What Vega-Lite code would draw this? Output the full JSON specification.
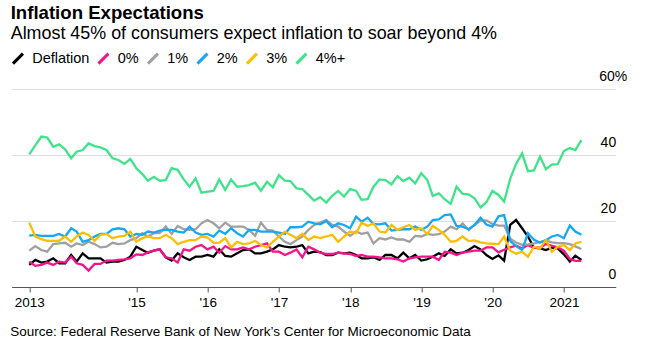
{
  "$schema": "https://vega.github.io/schema/vega-lite/v6.json",
  "autosize": {"type": "none"},
  "width": 604,
  "height": 198,
  "padding": {"left": 11.7, "top": 89, "right": 49.3, "bottom": 69},
  "config": {"view": {"stroke": null}, "font": "Liberation Sans"},
  "title": {
    "text": "Inflation Expectations",
    "subtitle": "Almost 45% of consumers expect inflation to soar beyond 4%",
    "anchor": "start",
    "frame": "group",
    "fontSize": 18.6,
    "fontWeight": "bold",
    "color": "#000",
    "subtitleFontSize": 17.9,
    "subtitleColor": "#000",
    "subtitlePadding": 3,
    "offset": 8,
    "dx": -1
  },
  "data": {"values": [
    {"d":"2013-06-30","Deflation":6.7,"0%":7.7,"1%":11.0,"2%":15.6,"3%":19.5,"4%+":40.2},
    {"d":"2013-07-31","Deflation":8.2,"0%":6.4,"1%":12.4,"2%":15.8,"3%":15.3,"4%+":42.9},
    {"d":"2013-08-31","Deflation":7.4,"0%":6.7,"1%":11.2,"2%":15.5,"3%":14.5,"4%+":45.6},
    {"d":"2013-09-30","Deflation":7.7,"0%":7.4,"1%":10.7,"2%":15.5,"3%":14.0,"4%+":45.3},
    {"d":"2013-10-31","Deflation":8.7,"0%":6.7,"1%":13.0,"2%":15.5,"3%":14.0,"4%+":42.5},
    {"d":"2013-11-30","Deflation":7.2,"0%":7.7,"1%":13.2,"2%":16.1,"3%":14.0,"4%+":43.2},
    {"d":"2013-12-31","Deflation":7.2,"0%":7.4,"1%":13.4,"2%":15.3,"3%":15.3,"4%+":41.7},
    {"d":"2014-01-31","Deflation":9.7,"0%":9.2,"1%":12.2,"2%":17.8,"3%":13.7,"4%+":39.0},
    {"d":"2014-02-28","Deflation":7.7,"0%":7.2,"1%":13.2,"2%":16.8,"3%":15.3,"4%+":41.0},
    {"d":"2014-03-31","Deflation":10.2,"0%":6.7,"1%":12.7,"2%":13.7,"3%":16.5,"4%+":41.5},
    {"d":"2014-04-30","Deflation":8.7,"0%":5.0,"1%":13.7,"2%":14.2,"3%":15.8,"4%+":43.5},
    {"d":"2014-05-31","Deflation":8.7,"0%":7.0,"1%":13.0,"2%":15.3,"3%":14.0,"4%+":42.7},
    {"d":"2014-06-30","Deflation":8.7,"0%":7.0,"1%":12.0,"2%":16.1,"3%":15.8,"4%+":42.3},
    {"d":"2014-07-31","Deflation":7.4,"0%":8.0,"1%":12.2,"2%":16.1,"3%":16.1,"4%+":41.5},
    {"d":"2014-08-31","Deflation":7.7,"0%":8.0,"1%":13.4,"2%":17.5,"3%":14.8,"4%+":39.0},
    {"d":"2014-09-30","Deflation":7.7,"0%":8.2,"1%":13.0,"2%":17.8,"3%":15.3,"4%+":38.5},
    {"d":"2014-10-31","Deflation":8.2,"0%":8.4,"1%":13.2,"2%":17.5,"3%":15.5,"4%+":37.3},
    {"d":"2014-11-30","Deflation":9.2,"0%":8.7,"1%":14.2,"2%":15.3,"3%":16.8,"4%+":38.8},
    {"d":"2014-12-31","Deflation":12.2,"0%":9.9,"1%":14.8,"2%":16.1,"3%":13.7,"4%+":36.0},
    {"d":"2015-01-31","Deflation":11.2,"0%":9.7,"1%":16.3,"2%":15.8,"3%":14.8,"4%+":34.2},
    {"d":"2015-02-28","Deflation":10.4,"0%":10.5,"1%":15.3,"2%":16.8,"3%":15.3,"4%+":32.2},
    {"d":"2015-03-31","Deflation":11.0,"0%":11.0,"1%":16.3,"2%":16.5,"3%":14.8,"4%+":33.4},
    {"d":"2015-04-30","Deflation":11.4,"0%":11.5,"1%":16.3,"2%":17.1,"3%":14.8,"4%+":32.2},
    {"d":"2015-05-31","Deflation":9.0,"0%":9.0,"1%":18.3,"2%":17.3,"3%":15.8,"4%+":32.4},
    {"d":"2015-06-30","Deflation":8.0,"0%":8.7,"1%":16.1,"2%":17.3,"3%":14.8,"4%+":36.0},
    {"d":"2015-07-31","Deflation":10.2,"0%":7.4,"1%":18.5,"2%":16.8,"3%":13.0,"4%+":35.5},
    {"d":"2015-08-31","Deflation":9.0,"0%":11.4,"1%":17.5,"2%":16.5,"3%":13.7,"4%+":32.6},
    {"d":"2015-09-30","Deflation":8.2,"0%":11.0,"1%":17.3,"2%":18.3,"3%":14.2,"4%+":30.4},
    {"d":"2015-10-31","Deflation":9.2,"0%":12.2,"1%":17.5,"2%":16.5,"3%":14.2,"4%+":32.9},
    {"d":"2015-11-30","Deflation":9.2,"0%":12.7,"1%":19.3,"2%":15.8,"3%":15.3,"4%+":28.6},
    {"d":"2015-12-31","Deflation":9.7,"0%":11.4,"1%":20.3,"2%":16.1,"3%":15.0,"4%+":28.9},
    {"d":"2016-01-31","Deflation":9.2,"0%":12.2,"1%":19.3,"2%":15.3,"3%":13.4,"4%+":29.1},
    {"d":"2016-02-29","Deflation":11.4,"0%":10.4,"1%":17.8,"2%":17.1,"3%":13.4,"4%+":32.6},
    {"d":"2016-03-31","Deflation":9.4,"0%":12.4,"1%":19.5,"2%":16.1,"3%":14.8,"4%+":29.4},
    {"d":"2016-04-30","Deflation":9.2,"0%":11.4,"1%":18.3,"2%":17.8,"3%":12.0,"4%+":32.6},
    {"d":"2016-05-31","Deflation":10.2,"0%":11.4,"1%":18.3,"2%":16.3,"3%":13.7,"4%+":30.4},
    {"d":"2016-06-30","Deflation":11.2,"0%":12.0,"1%":18.3,"2%":15.3,"3%":13.0,"4%+":30.6},
    {"d":"2016-07-31","Deflation":11.4,"0%":11.4,"1%":17.3,"2%":17.3,"3%":13.2,"4%+":30.9},
    {"d":"2016-08-31","Deflation":10.2,"0%":12.2,"1%":15.5,"2%":17.3,"3%":14.0,"4%+":31.6},
    {"d":"2016-09-30","Deflation":10.2,"0%":12.7,"1%":19.5,"2%":16.8,"3%":12.7,"4%+":29.2},
    {"d":"2016-10-31","Deflation":10.7,"0%":13.2,"1%":17.3,"2%":16.8,"3%":12.0,"4%+":31.9},
    {"d":"2016-11-30","Deflation":11.4,"0%":10.7,"1%":17.1,"2%":16.8,"3%":13.7,"4%+":30.2},
    {"d":"2016-12-31","Deflation":12.7,"0%":10.7,"1%":15.3,"2%":16.5,"3%":15.3,"4%+":33.9},
    {"d":"2017-01-31","Deflation":12.2,"0%":9.7,"1%":13.7,"2%":16.1,"3%":16.8,"4%+":32.2},
    {"d":"2017-02-28","Deflation":12.0,"0%":10.4,"1%":13.0,"2%":18.1,"3%":15.8,"4%+":32.1},
    {"d":"2017-03-31","Deflation":12.2,"0%":11.4,"1%":14.2,"2%":18.1,"3%":14.8,"4%+":29.9},
    {"d":"2017-04-30","Deflation":12.7,"0%":9.0,"1%":15.3,"2%":18.3,"3%":16.1,"4%+":29.7},
    {"d":"2017-05-31","Deflation":10.2,"0%":12.2,"1%":17.3,"2%":19.8,"3%":14.2,"4%+":27.9},
    {"d":"2017-06-30","Deflation":10.7,"0%":11.4,"1%":18.8,"2%":19.3,"3%":15.3,"4%+":26.2},
    {"d":"2017-07-31","Deflation":10.6,"0%":10.4,"1%":19.5,"2%":19.0,"3%":14.8,"4%+":27.2},
    {"d":"2017-08-31","Deflation":9.7,"0%":10.0,"1%":20.3,"2%":20.0,"3%":15.3,"4%+":25.6},
    {"d":"2017-09-30","Deflation":9.7,"0%":10.0,"1%":18.8,"2%":18.1,"3%":15.8,"4%+":27.6},
    {"d":"2017-10-31","Deflation":10.4,"0%":10.4,"1%":18.3,"2%":19.3,"3%":13.7,"4%+":29.1},
    {"d":"2017-11-30","Deflation":10.2,"0%":10.2,"1%":16.8,"2%":18.8,"3%":15.3,"4%+":27.4},
    {"d":"2017-12-31","Deflation":10.4,"0%":10.0,"1%":15.5,"2%":17.8,"3%":16.8,"4%+":29.7},
    {"d":"2018-01-31","Deflation":9.7,"0%":9.4,"1%":16.8,"2%":21.3,"3%":16.3,"4%+":29.1},
    {"d":"2018-02-28","Deflation":8.7,"0%":9.7,"1%":16.1,"2%":19.8,"3%":19.5,"4%+":26.4},
    {"d":"2018-03-31","Deflation":8.7,"0%":9.2,"1%":16.5,"2%":21.0,"3%":18.5,"4%+":26.6},
    {"d":"2018-04-30","Deflation":9.0,"0%":9.2,"1%":13.2,"2%":19.1,"3%":19.3,"4%+":30.4},
    {"d":"2018-05-31","Deflation":8.2,"0%":9.0,"1%":14.8,"2%":19.0,"3%":16.8,"4%+":32.6},
    {"d":"2018-06-30","Deflation":9.7,"0%":8.7,"1%":14.4,"2%":19.3,"3%":16.5,"4%+":32.4},
    {"d":"2018-07-31","Deflation":9.7,"0%":8.7,"1%":15.0,"2%":17.1,"3%":18.8,"4%+":31.1},
    {"d":"2018-08-31","Deflation":8.7,"0%":8.4,"1%":14.4,"2%":17.3,"3%":17.3,"4%+":33.6},
    {"d":"2018-09-30","Deflation":10.4,"0%":7.7,"1%":14.4,"2%":17.5,"3%":18.1,"4%+":32.1},
    {"d":"2018-10-31","Deflation":8.7,"0%":8.7,"1%":13.7,"2%":17.5,"3%":18.8,"4%+":33.1},
    {"d":"2018-11-30","Deflation":9.7,"0%":9.0,"1%":15.5,"2%":18.3,"3%":17.3,"4%+":31.4},
    {"d":"2018-12-31","Deflation":8.0,"0%":9.2,"1%":15.3,"2%":17.3,"3%":17.8,"4%+":34.5},
    {"d":"2019-01-31","Deflation":8.4,"0%":9.2,"1%":16.1,"2%":18.3,"3%":16.1,"4%+":32.4},
    {"d":"2019-02-28","Deflation":9.2,"0%":9.2,"1%":15.8,"2%":20.3,"3%":18.5,"4%+":27.6},
    {"d":"2019-03-31","Deflation":10.2,"0%":8.2,"1%":16.0,"2%":20.5,"3%":17.3,"4%+":28.4},
    {"d":"2019-04-30","Deflation":9.4,"0%":10.7,"1%":16.8,"2%":21.8,"3%":15.8,"4%+":26.6},
    {"d":"2019-05-31","Deflation":11.4,"0%":10.4,"1%":18.3,"2%":22.0,"3%":13.7,"4%+":25.2},
    {"d":"2019-06-30","Deflation":10.2,"0%":9.7,"1%":17.5,"2%":18.5,"3%":14.0,"4%+":30.4},
    {"d":"2019-07-31","Deflation":10.4,"0%":10.4,"1%":19.3,"2%":18.3,"3%":15.3,"4%+":28.2},
    {"d":"2019-08-31","Deflation":11.2,"0%":10.7,"1%":17.3,"2%":17.5,"3%":13.9,"4%+":28.1},
    {"d":"2019-09-30","Deflation":12.4,"0%":11.0,"1%":18.8,"2%":18.8,"3%":14.1,"4%+":26.9},
    {"d":"2019-10-31","Deflation":11.4,"0%":11.0,"1%":20.1,"2%":21.0,"3%":13.5,"4%+":24.1},
    {"d":"2019-11-30","Deflation":9.7,"0%":12.0,"1%":20.2,"2%":18.9,"3%":13.2,"4%+":25.7},
    {"d":"2019-12-31","Deflation":8.5,"0%":12.0,"1%":19.1,"2%":18.3,"3%":13.1,"4%+":29.1},
    {"d":"2020-01-31","Deflation":9.6,"0%":10.5,"1%":18.6,"2%":21.4,"3%":13.0,"4%+":27.9},
    {"d":"2020-02-29","Deflation":8.0,"0%":11.3,"1%":18.6,"2%":21.8,"3%":15.3,"4%+":25.9},
    {"d":"2020-03-31","Deflation":18.8,"0%":12.0,"1%":14.6,"2%":14.0,"3%":11.0,"4%+":32.8},
    {"d":"2020-04-30","Deflation":20.3,"0%":12.5,"1%":13.5,"2%":12.4,"3%":10.1,"4%+":37.3},
    {"d":"2020-05-31","Deflation":17.8,"0%":11.7,"1%":12.8,"2%":11.2,"3%":10.7,"4%+":40.5},
    {"d":"2020-06-30","Deflation":15.3,"0%":12.7,"1%":12.9,"2%":16.3,"3%":9.2,"4%+":35.1},
    {"d":"2020-07-31","Deflation":11.9,"0%":11.9,"1%":13.2,"2%":14.3,"3%":12.2,"4%+":35.3},
    {"d":"2020-08-31","Deflation":11.7,"0%":11.9,"1%":13.6,"2%":13.5,"3%":11.7,"4%+":39.5},
    {"d":"2020-09-30","Deflation":11.2,"0%":13.0,"1%":14.0,"2%":14.2,"3%":14.2,"4%+":35.7},
    {"d":"2020-10-31","Deflation":11.9,"0%":12.5,"1%":13.5,"2%":15.3,"3%":10.7,"4%+":37.1},
    {"d":"2020-11-30","Deflation":11.7,"0%":12.0,"1%":13.3,"2%":15.8,"3%":12.2,"4%+":37.2},
    {"d":"2020-12-31","Deflation":9.9,"0%":11.0,"1%":13.3,"2%":14.8,"3%":12.7,"4%+":41.2},
    {"d":"2021-01-31","Deflation":7.7,"0%":8.5,"1%":13.0,"2%":18.6,"3%":11.2,"4%+":42.1},
    {"d":"2021-02-28","Deflation":9.5,"0%":7.9,"1%":12.3,"2%":16.8,"3%":13.2,"4%+":41.5},
    {"d":"2021-03-31","Deflation":8.2,"0%":7.9,"1%":11.5,"2%":15.8,"3%":13.7,"4%+":44.5}
  ]},
  "transform": [
    {"fold": ["Deflation", "0%", "1%", "2%", "3%", "4%+"], "as": ["series", "value"]}
  ],
  "mark": {"type": "line", "strokeWidth": 2.3},
  "encoding": {
    "x": {
      "field": "d",
      "type": "temporal",
      "scale": {"domain": [{"year": 2013, "month": 4, "date": 1}, {"year": 2021, "month": 9, "date": 23}]},
      "axis": {
        "values": [
          {"year": 2013, "month": 6, "date": 30},
          {"year": 2015, "month": 1, "date": 1},
          {"year": 2016, "month": 1, "date": 1},
          {"year": 2017, "month": 1, "date": 1},
          {"year": 2018, "month": 1, "date": 1},
          {"year": 2019, "month": 1, "date": 1},
          {"year": 2020, "month": 1, "date": 1},
          {"year": 2021, "month": 1, "date": 1}
        ],
        "labelExpr": "(year(datum.value) == 2013 || year(datum.value) == 2021) ? timeFormat(datum.value, '%Y') : timeFormat(datum.value, \"'%y\")",
        "grid": false,
        "domainColor": "#555",
        "tickColor": "#555",
        "tickSize": 5,
        "labelFontSize": 13.5,
        "labelColor": "#000",
        "labelPadding": 3,
        "labelFlush": false,
        "title": "Source: Federal Reserve Bank of New York’s Center for Microeconomic Data",
        "titleAnchor": "start",
        "titleAlign": "left",
        "titleBaseline": "alphabetic",
        "titleX": -2,
        "titleY": 48,
        "titleFontSize": 13.5,
        "titleFontWeight": "normal",
        "titleColor": "#000"
      }
    },
    "y": {
      "field": "value",
      "type": "quantitative",
      "scale": {"domain": [0, 60]},
      "axis": {
        "orient": "right",
        "values": [0, 20, 40, 60],
        "labelExpr": "datum.value == 60 ? '60%' : datum.label",
        "grid": true,
        "gridColor": "#dedede",
        "domain": false,
        "ticks": false,
        "labelAlign": {"condition": {"test": "datum.value == 60", "value": "left"}, "value": "right"},
        "labelPadding": {"condition": {"test": "datum.value == 60", "value": -17}, "value": 0},
        "labelBaseline": "alphabetic",
        "labelOffset": -9,
        "labelFontSize": 14,
        "labelColor": "#000",
        "title": null
      }
    },
    "color": {
      "field": "series",
      "type": "nominal",
      "scale": {
        "domain": ["Deflation", "0%", "1%", "2%", "3%", "4%+"],
        "range": ["#000000", "#f5148c", "#a0a0a0", "#14a8f5", "#fdbd00", "#3fe38a"]
      },
      "legend": {
        "orient": "none",
        "legendX": -1,
        "legendY": -38,
        "direction": "horizontal",
        "title": null,
        "symbolType": "M-1,1L1,-1",
        "symbolSize": 100,
        "symbolStrokeWidth": 3,
        "labelFontSize": 14.5,
        "labelColor": "#000",
        "columnPadding": 2.5,
        "labelOffset": 7,
        "padding": 0
      }
    }
  }
}
